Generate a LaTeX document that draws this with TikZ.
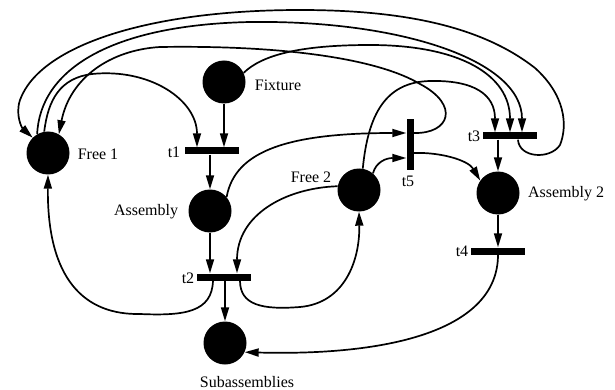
\documentclass[tikz,border=0pt]{standalone}
\usepackage{fontspec}
\setmainfont{Liberation Serif}
\usetikzlibrary{arrows.meta}
\begin{document}
\begin{tikzpicture}[x=1pt,y=-1pt,
  place/.style={circle,fill=black,draw=none,minimum size=43pt,inner sep=0pt},
  trans/.style={rectangle,fill=black,draw=none,minimum width=54pt,minimum height=7pt,inner sep=0pt},
  vtrans/.style={trans,minimum width=7pt,minimum height=51pt},
  lbl/.style={inner sep=0pt,text height=10.6pt,text depth=0pt,font=\fontsize{16}{18}\selectfont},
  flow/.style={line width=1.7pt,-{Triangle[length=14pt,width=8pt]}}
]
\useasboundingbox (0,0) rectangle (615,390);

% places
\node[place] (free1)    at (48,153)  {};
\node[place] (fixture)  at (224,82)  {};
\node[place] (assembly) at (210,211) {};
\node[place] (subasm)   at (225,343) {};
\node[place] (free2)    at (359,190) {};
\node[place] (asm2)     at (498,193) {};

% transitions
\node[trans]  (t1) at (212,151) {};
\node[trans]  (t2) at (224,277) {};
\node[trans]  (t3) at (510,136) {};
\node[trans]  (t4) at (498,251) {};
\node[vtrans] (t5) at (410,145) {};

% labels
\node[lbl] (lfixture)  at (278,85)  {Fixture};
\node[lbl] (lfree1)    at (98,154)  {Free 1};
\node[lbl] (lt1)       at (174,152) {t1};
\node[lbl] (lassembly) at (146,210) {Assembly};
\node[lbl] (lt2)       at (188,278) {t2};
\node[lbl] (lsubasm)   at (247,382) {Subassemblies};
\node[lbl] (lfree2)    at (311,177) {Free 2};
\node[lbl] (lt5)       at (408,181) {t5};
\node[lbl] (lt3)       at (474,136) {t3};
\node[lbl] (lasm2)     at (566,192) {Assembly 2};
\node[lbl] (lt4)       at (462,251) {t4};

% straight arcs
\draw[flow] (fixture.south) -- (fixture.south |- t1.north);
\draw[flow] (t1.south -| assembly) -- (assembly.north);
\draw[flow] (assembly.south) -- (assembly.south |- t2.north);
\draw[flow] (t2.south -| subasm) -- (subasm.north);
\draw[flow] (t3.south -| asm2) -- (asm2.north);
\draw[flow] (asm2.south) -- (asm2.south |- t4.north);

% t3 back to Free 1 (outer loop)
\draw[flow] ([xshift=8pt]t3.south) .. controls (519,158) and (550,160) .. (560,145)
  .. controls (568,125) and (565,95) .. (535,68)
  .. controls (480,25) and (400,10) .. (300,10)
  .. controls (150,10) and (40,45) .. (20,100)
  .. controls (15,115) and (22,128) .. (free1.135);

% Free 1 to t3
\draw[flow] (free1.120) .. controls (40,70) and (110,25) .. (250,22)
  .. controls (400,20) and (522,60) .. ([xshift=12pt]t3.north);

% Free 1 to t1
\draw[flow] (free1.100) .. controls (48,100) and (60,78) .. (92,74)
  .. controls (150,68) and (197,100) .. ([xshift=-15pt]t1.north);

% t5 back to Free 1
\draw[flow] ([yshift=12pt]t5.east) .. controls (450,134) and (460,105) .. (420,84)
  .. controls (380,60) and (290,45) .. (160,47)
  .. controls (110,50) and (70,78) .. (free1.60);

% Fixture to t3
\draw[flow] (fixture.25) .. controls (262,55) and (300,45) .. (370,45)
  .. controls (460,45) and (510,75) .. (t3.north);

% Free 2 to t3
\draw[flow] (free2.80) .. controls (368,115) and (385,82) .. (430,81)
  .. controls (475,80) and (495,95) .. ([xshift=-15pt]t3.north);

% Free 2 to t5
\draw[flow] (free2.50) .. controls (376,162) and (386,158) .. ([yshift=-13pt]t5.west);

% Assembly to t5
\draw[flow] (assembly.40) .. controls (235,150) and (290,133) .. ([yshift=12pt]t5.west);

% t5 to Assembly 2
\draw[flow] ([yshift=-8pt]t5.east) .. controls (440,152) and (468,160) .. (asm2.145);

% t4 to Subassemblies
\draw[flow] (t4.south) .. controls (498,330) and (390,356) .. (subasm.-25);

% Free 2 to t2
\draw[flow] (free2.170) .. controls (285,188) and (237,215) .. ([xshift=13pt]t2.north);

% t2 back to Free 1
\draw[flow] ([xshift=-11pt]t2.south) .. controls (212,312) and (185,316) .. (140,314)
  .. controls (85,315) and (47,280) .. (free1.south);

% t2 back to Free 2
\draw[flow] ([xshift=16pt]t2.south) .. controls (240,305) and (262,310) .. (300,307)
  .. controls (345,303) and (360,260) .. (free2.south);
\end{tikzpicture}
\end{document}
